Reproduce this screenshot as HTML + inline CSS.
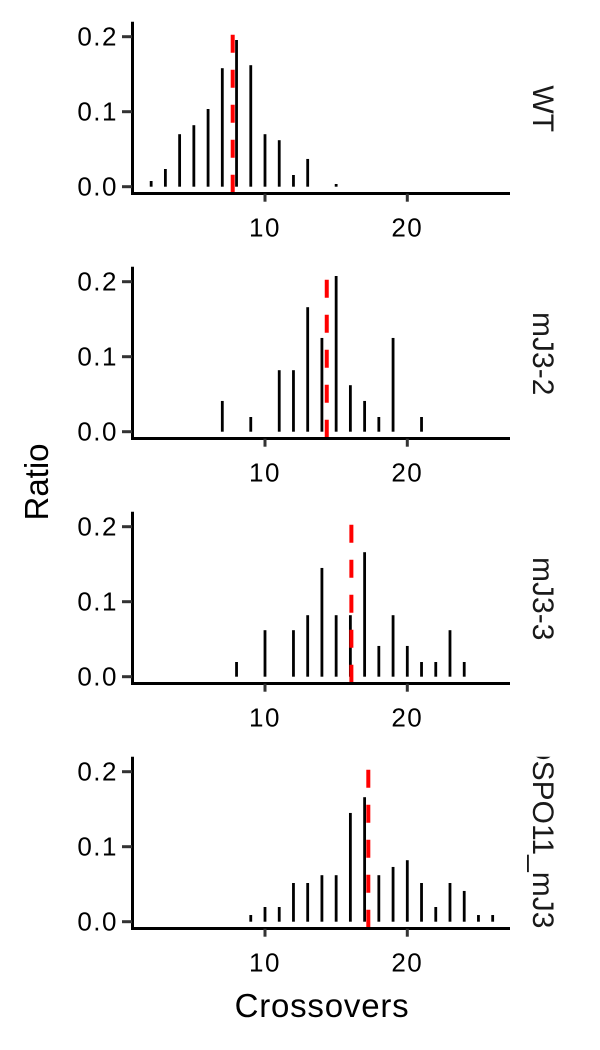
<!DOCTYPE html>
<html><head><meta charset="utf-8"><style>
html,body{margin:0;padding:0;background:#fff;}
svg{display:block;font-family:"Liberation Sans",Arial,sans-serif;}
</style></head><body>
<svg id="chart" width="600" height="1050" viewBox="0 0 600 1050"></svg>
<script>
const panelNames = ["WT","mJ3-2","mJ3-3","DSPO11_mJ3"];
const panelX = [
  [2,3,4,5,6,7,8,9,10,11,12,13,15],
  [7,9,11,12,13,14,15,16,17,18,19,21],
  [8,10,12,13,14,15,16,17,18,19,20,21,22,23,24],
  [9,10,11,12,13,14,15,16,17,18,19,20,21,22,23,24,25,26]
];
const panelY = [
  [0.0076,0.0236,0.070,0.082,0.1036,0.158,0.1956,0.162,0.070,0.062,0.0156,0.037,0.0036],
  [0.041,0.0196,0.082,0.082,0.166,0.125,0.2076,0.062,0.041,0.0196,0.125,0.0196],
  [0.0196,0.062,0.062,0.082,0.145,0.082,0.082,0.166,0.041,0.082,0.041,0.0196,0.0196,0.062,0.0196],
  [0.0089,0.0196,0.0196,0.0516,0.0516,0.062,0.062,0.145,0.166,0.062,0.073,0.082,0.0516,0.0196,0.0516,0.041,0.0089,0.0089]
];
const panelMeans = [7.73,14.34,16.07,17.26];
const xTicks = [10,20];
const yTicks = [0.0,0.1,0.2];
const yTickLabels = ["0.0","0.1","0.2"];

const NS="http://www.w3.org/2000/svg";
const svg=document.getElementById('chart');
function mk(tag,attrs,parent){const e=document.createElementNS(NS,tag);for(const k in attrs)e.setAttribute(k,attrs[k]);(parent||svg).appendChild(e);return e;}
const xScale=v=>122.7+v*14.23;
const zeroY=[186.7,431.7,676.7,921.7];
const defs=mk('defs',{});

panelNames.forEach((name,p)=>{
  const g=mk('g',{});
  
  
  const y0=zeroY[p];
  const yScale=v=>y0-v*750;
  panelX[p].forEach((xv,i)=>{
    const b=mk('rect',{x:xScale(xv)-1.4,y:yScale(panelY[p][i]),width:2.8,height:y0-yScale(panelY[p][i]),fill:'#000'},g);
    
    
  });
  const m=mk('line',{x1:xScale(panelMeans[p]),x2:xScale(panelMeans[p]),y1:y0-152,y2:y0+7,stroke:'#ff0000','stroke-width':4,'stroke-dasharray':'18 17'},g);
  
  
  const ya=mk('line',{x1:132.5,x2:132.5,y1:y0-165,y2:y0+8,stroke:'#000','stroke-width':3},g);
  
  
  const xa=mk('line',{x1:131,x2:510,y1:y0+6.8,y2:y0+6.8,stroke:'#000','stroke-width':3},g);
  
  
  yTicks.forEach((t,i)=>{
    const yy=yScale(t);
    mk('line',{x1:122,x2:132,y1:yy,y2:yy,stroke:'#333','stroke-width':3},g);
    const tx=mk('text',{x:118,y:yy+9,'text-anchor':'end','font-size':26,'letter-spacing':1.5,fill:'#000'},g);
    tx.textContent=yTickLabels[i];
    
    
  });
  xTicks.forEach(t=>{
    const xx=xScale(t);
    mk('line',{x1:xx,x2:xx,y1:y0+7,y2:y0+15,stroke:'#333','stroke-width':3},g);
    const tx=mk('text',{x:xx,y:y0+50,'text-anchor':'middle','font-size':26,'letter-spacing':1.5,fill:'#000'},g);
    tx.textContent=t;
    
    
  });
  const cp=mk('clipPath',{id:'clip'+p},defs);
  mk('rect',{x:515,y:y0-165,width:45,height:173},cp);
  const cy = p===3 ? y0-88 : y0-78;
  const sg=mk('g',{'clip-path':`url(#clip${p})`},g);
  const st=mk('text',{x:0,y:0,'text-anchor':'middle','font-size':30,fill:'#1a1a1a',transform:`translate(533,${cy}) rotate(90)`},sg);
  st.textContent=name;
  
  
});
const yt=mk('text',{x:0,y:0,'text-anchor':'middle','font-size':33,fill:'#000',transform:'translate(48,482) rotate(-90)'});
yt.textContent='Ratio';


const xt=mk('text',{x:322,y:1017,'text-anchor':'middle','font-size':33,'letter-spacing':0.8,fill:'#000'});
xt.textContent='Crossovers';


</script>
</body></html>
